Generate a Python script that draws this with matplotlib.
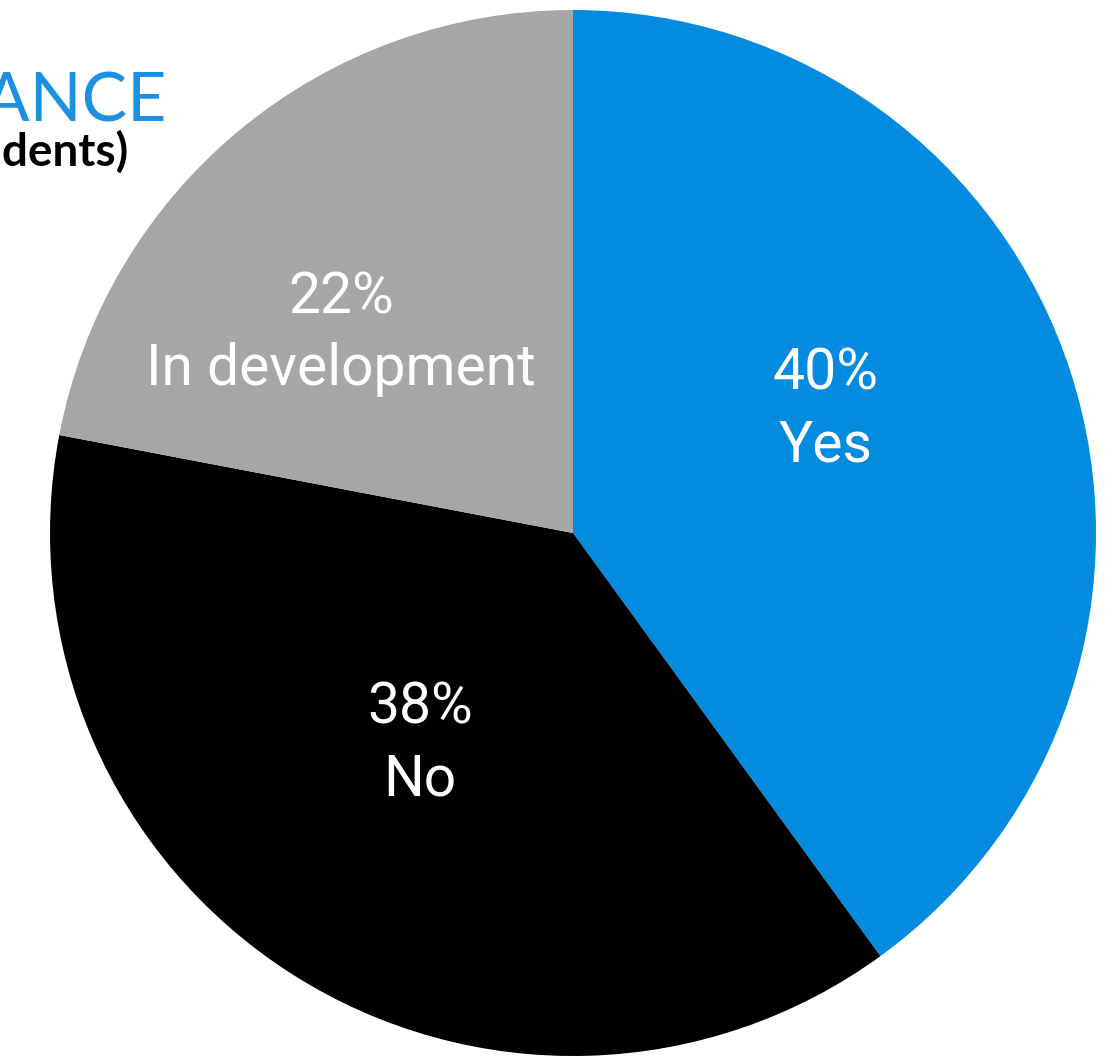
import matplotlib

matplotlib.use("Agg")
import matplotlib.pyplot as plt

# survey split, clockwise from 12 o'clock
labels = ["Yes", "No", "In development"]
shares = [40, 38, 22]
colors = ["#038CDF", "#000000", "#A6A6A6"]

# where each slice's label sits (pixel coords, y measured from top)
label_xy = [(826, 410), (420, 744), (341, 334)]

W, H = 1114, 1057
plt.rcParams["font.family"] = ["Roboto", "DejaVu Sans"]

fig = plt.figure(figsize=(W / 100, H / 100), dpi=100)
ax = fig.add_axes([0, 0, 1, 1])

ax.pie(shares, colors=colors, startangle=90, counterclock=False,
       center=(573, H - 533), radius=523, frame=True,
       wedgeprops={"linewidth": 0})
ax.set_xlim(0, W)
ax.set_ylim(0, H)
ax.set_aspect("equal")
ax.axis("off")

for (x, y), lab, val in zip(label_xy, labels, shares):
    ax.text(x, H - y, f"{val}%\n{lab}", ha="center", va="center",
            color="white", fontsize=41, linespacing=1.38)

# heading runs off the left edge
ax.text(166, H - 122, "AI GOVERNANCE", ha="right", va="baseline",
        color="#1E90E0", fontsize=49, family=["Lato", "DejaVu Sans"])
ax.text(128, H - 166, "(% of respondents)", ha="right", va="baseline",
        color="black", fontsize=33, family=["Lato", "DejaVu Sans"],
        fontweight="bold")

fig.savefig("out.png", dpi=100)
